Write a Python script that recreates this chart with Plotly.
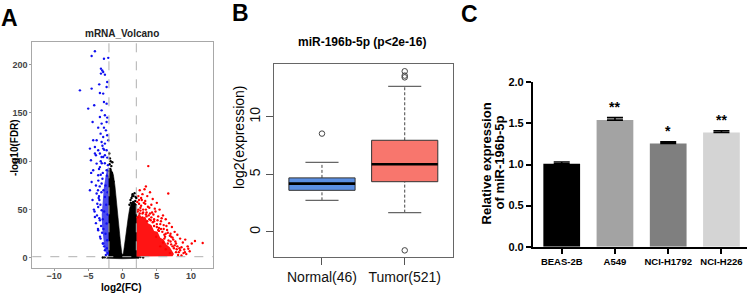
import plotly.graph_objects as go

W, H = 750, 294

# ---------------- Panel A : volcano ----------------
FC_CUT = 2.0
FDR_LINE = 1.3            # -log10(0.05)
a_xticks = [-10, -5, 0, 5, 10]
a_yticks = [0, 50, 100, 150, 200]

# dense black (non significant) cloud outline
black_core_x = [-2.35, -2.05, -2.05, -1.95, -1.7, -1.35, -1.13, -0.73, -0.45, -0.3, -0.12, 0.0, 0.12, 0.34, 0.5,
                0.82, 1.05, 1.3, 1.7, 2.05, 2.05, 2.4, 2.4, 0.0, -2.35]
black_core_y = [-0.3, 1.5, 82, 90, 92, 86, 75, 42, 25, 15, 5, 3, 5, 15, 25,
                42, 52, 57, 58, 55, 1.5, 1.2, -0.3, -0.8, -0.3]
black_x = [-1.95, -1.85, -1.9, -1.75, -1.8, -1.65, -1.55, -1.7, -1.45, -1.35, -1.6, -1.98, -2.0, -1.5,
           1.0, 1.15, 1.3, 1.45, 1.6, 1.75, 1.9, 1.2, 1.55, 1.85, 2.0, 1.4, -2.6, -2.9, 2.6, 3.0]
black_y = [108, 103, 97, 100, 92, 95, 88, 85, 82, 79, 80, 90, 84, 99,
           55, 60, 62, 66, 64, 67, 63, 57, 58, 59, 62, 64, 0.8, 0.5, 0.9, 0.6]

# dense part of the down-regulated (blue) group
blue_core_x = [-2.05, -2.4, -2.65, -2.85, -3.0, -3.05, -2.95, -2.75, -2.5, -2.25, -2.05]
blue_core_y = [1.5, 4, 10, 20, 32, 45, 58, 72, 84, 92, 94]
blue_x = [-4.05, -4.53, -2.1, -2.73, -3.17, -2.98, -3.17, -2.84, -2.59, -2.25, -6.24, -4.53, -3.42, -2.84, -3.32,
          -2.34, -2.73, -2.34, -4.15, -5.03, -3.07, -2.59, -3.32, -2.25, -4.39, -3.07, -2.73, -3.57, -2.34, -3.22,
          -2.84, -2.25, -2.44, -4.3, -3.8, -3.07, -2.59, -2.1, -4.78, -4.05, -3.57, -2.84, -2.34, -3.9, -3.07,
          -2.25, -2.59, -3.32, -4.63, -4.05, -3.8, -3.57, -4.3, -4.53, -4.78, -3.8, -3.57, -4.05, -3.32, -2.84,
          -2.34, -3.07, -2.59, -3.07, -3.32, -2.34, -4.4, -4.2, -3.9, -3.6, -3.4, -2.9, -2.6, -2.3, -2.5,
          -2.8, -2.2, -2.4, -2.7, -2.2, -2.9, -3.6, -3.57, -3.22, -2.84, -2.59, -2.25, -2.5, -2.8, -3.0,
          -2.3, -2.15, -2.45, -2.7, -3.9, -4.1, -4.6, -3.2, -2.7, -2.15, -3.7, -3.45, -3.55, -3.75, -2.95,
          -3.3, -3.15, -3.4, -3.25, -3.5, -3.1, -2.95, -3.35, -3.2, -3.45, -3.05, -2.9]
blue_y = [213.8, 208.9, 207, 206, 195.8, 194, 190.7, 192.4, 189.6, 182, 173.4, 175.2, 179.6, 170, 170.6,
          176.8, 161.3, 159.6, 157.9, 154.5, 152.7, 147.6, 145.8, 145.2, 140.6, 139, 134.8, 134.8, 140.6, 128.6,
          125.1, 126.9, 132, 121.7, 121.7, 120, 118.3, 121.7, 113.1, 114.8, 111.4, 113.1, 111.4, 106.2, 104.4,
          103.8, 106.2, 108, 101, 108, 97.6, 85.5, 90.7, 78.6, 70, 66.6, 52.7, 42.4, 94, 104.4,
          90.7, 77, 63, 49.3, 39, 35.6, 60, 50, 75, 70, 60, 88, 98, 85, 75,
          70, 68, 55, 48, 45, 40, 30, 28.6, 20, 14.9, 8, 18.3, 25, 30, 26,
          10, 5, 3, 12, 36, 48, 88, 100, 112, 96, 56, 64, 80, 44, 116,
          22, 33, 41, 55, 62, 68, 82, 74, 86, 92, 98, 15]

# dense part of the up-regulated (red) group
red_core_x = [2.05, 2.05, 2.4, 2.9, 3.3, 3.7, 4.2, 4.6, 5.1, 5.5, 6.0, 6.4, 6.9, 7.3, 7.5, 7.3, 5.0, 2.05]
red_core_y = [1.5, 42, 46, 41, 43, 36, 34, 28, 27, 21, 19, 14, 11, 7, 4, 1.8, 1.6, 1.5]
red_x = [3.75, 6.67, 3.4, 2.5, 2.9, 3.2, 4.0, 2.3, 3.6, 4.4, 2.8, 5.0, 3.1, 4.2, 2.4, 5.4, 4.8, 3.9, 2.6, 5.9,
         6.3, 5.2, 4.5, 6.8, 7.2, 6.0, 5.6, 7.6, 8.0, 7.0, 6.5, 8.4, 8.8, 9.15, 9.5, 10.1, 10.57, 11.7, 9.0, 8.6,
         9.8, 8.2, 9.3, 7.8, 7.4, 6.1, 5.3, 5.0, 4.6, 4.0, 3.4, 2.2, 2.15, 2.7, 3.3, 4.7, 5.7, 6.4, 7.1, 8.9,
         2.3, 2.7, 3.0, 3.5, 3.8, 4.2, 4.6, 5.0, 5.3, 5.8, 6.2, 6.7, 7.1, 7.5, 7.8, 8.1, 8.4, 8.0, 7.7, 7.3,
         6.9, 6.6, 6.0, 5.5, 5.1, 4.3, 3.7, 3.3, 2.4, 2.9, 4.9, 5.9, 6.3, 6.9, 5.5, 8.6, 9.1, 9.6, 2.2, 3.6,
         2.5, 2.9, 3.5, 4.1, 4.6, 5.2, 6.1, 6.6, 7.3, 7.9, 3.0, 3.9, 4.4, 5.6, 6.3, 7.0, 7.6, 8.3, 2.6, 3.4]
red_y = [95, 66.6, 74, 70, 66, 71, 68, 64, 64, 61, 60, 57, 57, 55, 56, 50, 48, 52, 52, 44,
         40, 43, 45, 36, 32, 34, 38, 27, 24, 25, 29, 20, 16, 19, 12, 14.9, 17.6, 15.5, 8.7, 11,
         7, 6, 4, 15, 19, 24, 31, 35, 40, 46, 50, 48, 58, 62, 59, 51, 41, 33, 22, 5,
         50, 54, 50, 47, 44, 42, 38, 32, 28, 27, 22, 18, 14, 10, 6, 3, 8, 12, 17, 21,
         23, 26, 30, 35, 39, 47, 53, 56, 60, 46, 22, 16, 9, 5, 12, 2.5, 6, 9.5, 42, 38,
         46, 42, 43, 39, 33, 29, 20, 15, 12, 9, 47, 40, 37, 30, 25, 17, 13, 10, 49, 45]

# ---------------- Panel B : boxplot ----------------
b_groups = ["Normal(46)", "Tumor(521)"]
b_pos = [1, 2]
b_low = [2.75, 1.68]
b_q1 = [3.62, 4.37]
b_med = [4.2, 5.88]
b_q3 = [4.70, 7.97]
b_high = [6.05, 12.66]
b_out = [[8.55], [13.97, 13.59, 13.44, -1.6]]
b_fill = ["#5B8FE3", "#F8766D"]
b_yticks = [0, 5, 10]

# ---------------- Panel C : bar chart ----------------
c_lines = ["BEAS-2B", "A549", "NCI-H1792", "NCI-H226"]
c_vals = [1.01, 1.54, 1.255, 1.39]
c_err = [0.02, 0.03, 0.02, 0.02]
c_sig = ["", "**", "*", "**"]
c_cols = ["#000000", "#A3A3A3", "#7F7F7F", "#D4D4D4"]
c_yticks = [0.0, 0.5, 1.0, 1.5, 2.0]
c_ytitle = ["Relative expression", "of miR-196b-5p"]

FONT = "Liberation Sans, Arial, sans-serif"


def dx(p0, p1):
    return [p0 / W, p1 / W]


def dy(top, bottom):
    return [1 - bottom / H, 1 - top / H]


fig = go.Figure()

# ---- A traces
fig.add_trace(go.Scatter(x=black_core_x, y=black_core_y, fill="toself", fillcolor="black",
                         line=dict(width=0.6, color="black"), mode="lines", xaxis="x", yaxis="y",
                         hoverinfo="skip", showlegend=False))
fig.add_trace(go.Scatter(x=black_x, y=black_y, mode="markers", marker=dict(size=2.4, color="black"),
                         xaxis="x", yaxis="y", showlegend=False))
fig.add_trace(go.Scatter(x=blue_core_x, y=blue_core_y, fill="toself", fillcolor="rgba(15,15,235,0.75)",
                         line=dict(width=0), mode="lines", xaxis="x", yaxis="y", hoverinfo="skip",
                         showlegend=False))
fig.add_trace(go.Scatter(x=blue_x, y=blue_y, mode="markers", marker=dict(size=2.4, color="#1010F0"),
                         xaxis="x", yaxis="y", showlegend=False))
fig.add_trace(go.Scatter(x=red_core_x, y=red_core_y, fill="toself", fillcolor="rgba(255,0,0,0.92)",
                         line=dict(width=0), mode="lines", xaxis="x", yaxis="y", hoverinfo="skip",
                         showlegend=False))
fig.add_trace(go.Scatter(x=red_x, y=red_y, mode="markers", marker=dict(size=2.4, color="#FF0000"),
                         xaxis="x", yaxis="y", showlegend=False))

shapes = []
for xv in (-FC_CUT, FC_CUT):
    shapes.append(dict(type="line", xref="x", yref="y domain", x0=xv, x1=xv, y0=0, y1=1,
                       line=dict(color="#B0B0B0", width=1, dash="dash")))
shapes.append(dict(type="line", xref="x domain", yref="y", x0=0, x1=1, y0=FDR_LINE, y1=FDR_LINE,
                   line=dict(color="#B0B0B0", width=1, dash="dash")))

# ---- B traces (boxplot drawn from the statistics)
BW, CW = 0.8, 0.4
for i, p in enumerate(b_pos):
    l, r = p - BW / 2, p + BW / 2
    fig.add_trace(go.Scatter(x=[p, p], y=[b_q3[i], b_high[i]], mode="lines",
                             line=dict(color="#444", width=1, dash="3px,2px"), xaxis="x2", yaxis="y2",
                             showlegend=False))
    fig.add_trace(go.Scatter(x=[p, p], y=[b_low[i], b_q1[i]], mode="lines",
                             line=dict(color="#444", width=1, dash="3px,2px"), xaxis="x2", yaxis="y2",
                             showlegend=False))
    for v in (b_low[i], b_high[i]):
        fig.add_trace(go.Scatter(x=[p - CW / 2, p + CW / 2], y=[v, v], mode="lines",
                                 line=dict(color="#666", width=1.2), xaxis="x2", yaxis="y2",
                                 showlegend=False))
    fig.add_trace(go.Scatter(x=[l, r, r, l, l], y=[b_q1[i], b_q1[i], b_q3[i], b_q3[i], b_q1[i]],
                             fill="toself", fillcolor=b_fill[i], mode="lines",
                             line=dict(color="#333", width=1), xaxis="x2", yaxis="y2", showlegend=False))
    fig.add_trace(go.Scatter(x=[l, r], y=[b_med[i], b_med[i]], mode="lines",
                             line=dict(color="black", width=2.6), xaxis="x2", yaxis="y2", showlegend=False))
    fig.add_trace(go.Scatter(x=[p] * len(b_out[i]), y=b_out[i], mode="markers",
                             marker=dict(symbol="circle-open", size=5.5, color="#444", line=dict(width=1)),
                             xaxis="x2", yaxis="y2", showlegend=False))

# ---- C traces
c_pos = list(range(len(c_lines)))
fig.add_trace(go.Bar(x=c_pos, y=c_vals, width=0.69, marker=dict(color=c_cols, line=dict(width=0)),
                     error_y=dict(type="data", array=c_err, arrayminus=[0] * len(c_err), symmetric=False,
                                  color="black", thickness=1.6, width=8),
                     xaxis="x3", yaxis="y3", showlegend=False))

ann = []
for i, s in enumerate(c_sig):
    if s:
        ann.append(dict(x=c_pos[i], y=c_vals[i] + c_err[i], xref="x3", yref="y3", text=s, showarrow=False,
                        yanchor="bottom", yshift=1, font=dict(family=FONT, size=14, color="black", weight="bold")))

# panel letters
for t, px_, py_ in (("A", 9, 18), ("B", 240, 13), ("C", 469, 14)):
    ann.append(dict(x=px_ / W, y=1 - py_ / H, xref="paper", yref="paper", text=t, showarrow=False,
                    xanchor="center", yanchor="middle", font=dict(family=FONT, size=23, color="black", weight="bold")))
# titles
ann.append(dict(x=122 / W, y=1 - 33 / H, xref="paper", yref="paper", text="mRNA_Volcano", showarrow=False,
                xanchor="center", yanchor="middle", font=dict(family=FONT, size=10, color="#222", weight="bold")))
ann.append(dict(x=362 / W, y=1 - 42 / H, xref="paper", yref="paper", text="miR-196b-5p (p&lt;2e-16)",
                showarrow=False, xanchor="center", yanchor="middle",
                font=dict(family=FONT, size=12, color="black", weight="bold")))
# axis titles
ann.append(dict(x=121 / W, y=1 - 287 / H, xref="paper", yref="paper", text="log2(FC)", showarrow=False,
                xanchor="center", yanchor="middle", font=dict(family=FONT, size=10, color="black", weight="bold")))
ann.append(dict(x=14 / W, y=1 - 148 / H, xref="paper", yref="paper", text="-log10(FDR)", showarrow=False,
                textangle=-90, xanchor="center", yanchor="middle",
                font=dict(family=FONT, size=10, color="black", weight="bold")))
ann.append(dict(x=239 / W, y=1 - 137 / H, xref="paper", yref="paper", text="log2(expression)", showarrow=False,
                textangle=-90, xanchor="center", yanchor="middle",
                font=dict(family=FONT, size=14, color="black")))
for k, (t, xp) in enumerate(zip(c_ytitle, (486.5, 499.5))):
    ann.append(dict(x=xp / W, y=1 - 163 / H, xref="paper", yref="paper", text=t, showarrow=False,
                    textangle=-90, xanchor="center", yanchor="middle",
                    font=dict(family=FONT, size=13, color="black", weight="bold")))

ax_a = dict(showgrid=False, zeroline=False, showline=True, mirror=True, linecolor="#A8A8A8", linewidth=1,
            ticks="outside", ticklen=2, tickcolor="#999", tickwidth=1, automargin=False,
            tickfont=dict(family=FONT, size=9, color="#444", weight="bold"))
ax_b = dict(showgrid=False, zeroline=False, showline=True, mirror=True, linecolor="#666", linewidth=1,
            ticks="outside", ticklen=7, tickcolor="#555", tickwidth=1, automargin=False,
            tickfont=dict(family=FONT, size=14, color="#111"))
ax_c = dict(showgrid=False, zeroline=False, showline=True, linecolor="black", linewidth=1.6,
            ticks="outside", ticklen=5, tickcolor="black", tickwidth=1.6, automargin=False)

fig.update_layout(
    width=W, height=H, margin=dict(l=0, r=0, t=0, b=0, autoexpand=False),
    paper_bgcolor="white", plot_bgcolor="white", showlegend=False,
    xaxis=dict(domain=dx(32.3, 213.3), range=[-13.2, 13.25], tickvals=a_xticks, anchor="y",
               ticklabelstandoff=-3, **ax_a),
    yaxis=dict(domain=dy(41.7, 268.3), range=[-10.7, 223.7], tickvals=a_yticks, anchor="x", **ax_a),
    xaxis2=dict(domain=dx(274, 452.7), range=[0.42, 2.58], tickvals=b_pos, ticktext=b_groups, anchor="y2", **ax_b),
    yaxis2=dict(domain=dy(64, 256.7), range=[-2.15, 14.6], tickvals=b_yticks, tickangle=-90, anchor="x2", **ax_b),
    xaxis3=dict(domain=dx(532.7, 747), range=[-0.545, 3.48], tickvals=c_pos, ticktext=c_lines, anchor="y3",
                tickangle=0, tickfont=dict(family=FONT, size=9.5, color="black", weight="bold"), **ax_c),
    yaxis3=dict(domain=dy(82.3, 246.7), range=[0, 2], tickvals=c_yticks, tickformat=".1f", anchor="x3",
                tickfont=dict(family=FONT, size=11, color="black", weight="bold"), **ax_c),
    shapes=shapes, annotations=ann,
)

fig.write_html("out.html", config={"displayModeBar": False},
               post_script="document.body.style.margin='0';document.body.style.padding='0';")
